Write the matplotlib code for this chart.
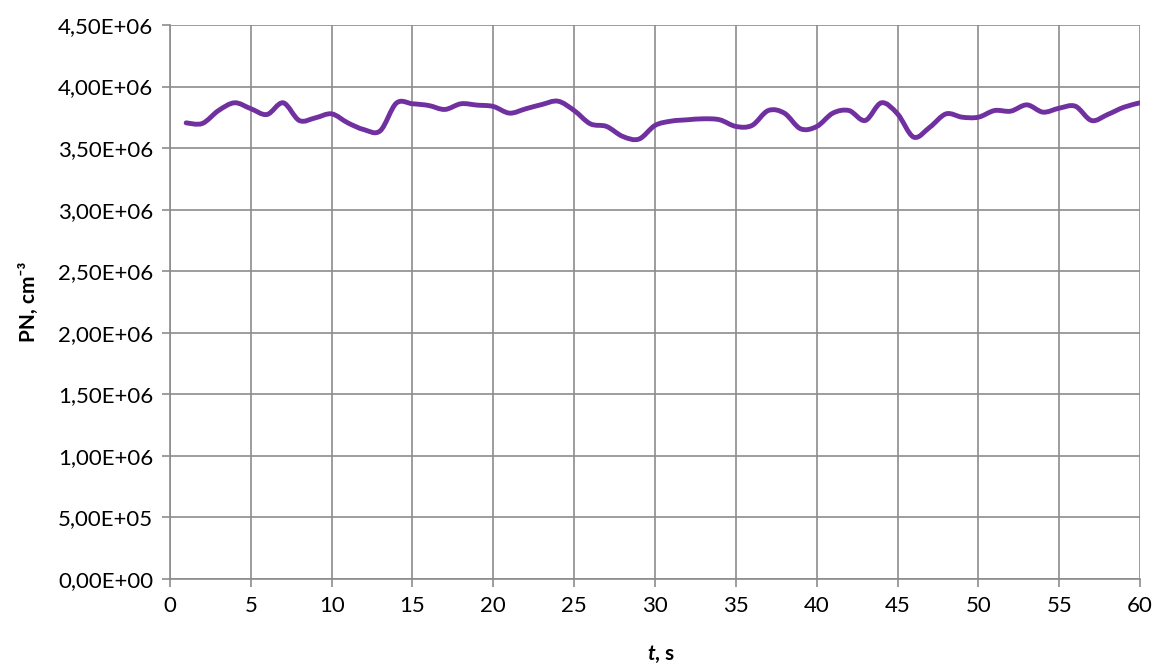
import matplotlib
matplotlib.use('Agg')
import matplotlib.pyplot as plt
import numpy as np
from matplotlib.path import Path
from matplotlib.patches import PathPatch
from matplotlib.ticker import FuncFormatter, MultipleLocator

plt.rcParams['font.family'] = ['Lato', 'DejaVu Sans']

# time in seconds and particle number (cm^-3)
t = list(range(1, 61))
pn = [3.705e6, 3.70e6, 3.805e6, 3.868e6, 3.82e6, 3.773e6, 3.868e6, 3.724e6, 3.746e6, 3.778e6,
      3.705e6, 3.65e6, 3.64e6, 3.865e6, 3.86e6, 3.846e6, 3.814e6, 3.86e6, 3.849e6, 3.838e6,
      3.784e6, 3.819e6, 3.854e6, 3.881e6, 3.805e6, 3.697e6, 3.676e6, 3.595e6, 3.573e6, 3.684e6,
      3.719e6, 3.73e6, 3.738e6, 3.73e6, 3.676e6, 3.684e6, 3.805e6, 3.784e6, 3.657e6, 3.675e6,
      3.784e6, 3.805e6, 3.724e6, 3.868e6, 3.778e6, 3.589e6, 3.67e6, 3.778e6, 3.751e6, 3.751e6,
      3.805e6, 3.80e6, 3.851e6, 3.792e6, 3.824e6, 3.84e6, 3.724e6, 3.773e6, 3.832e6, 3.868e6]

fig = plt.figure(figsize=(11.54, 6.66), dpi=100)
ax = fig.add_axes([0.1473, 0.1306, 0.8406, 0.8319])

# smoothed line like Excel (Catmull-Rom as cubic Bezier segments)
x = np.array(t, dtype=float)
y = np.array(pn, dtype=float)
verts = [(x[0], y[0])]
codes = [Path.MOVETO]
n = len(x)
for i in range(n - 1):
    x0, y0 = (x[i - 1], y[i - 1]) if i > 0 else (x[i], y[i])
    x3, y3 = (x[i + 2], y[i + 2]) if i + 2 < n else (x[i + 1], y[i + 1])
    c1 = (x[i] + (x[i + 1] - x0) / 6, y[i] + (y[i + 1] - y0) / 6)
    c2 = (x[i + 1] - (x3 - x[i]) / 6, y[i + 1] - (y3 - y[i]) / 6)
    verts += [c1, c2, (x[i + 1], y[i + 1])]
    codes += [Path.CURVE4] * 3
ax.add_patch(PathPatch(Path(verts, codes), facecolor='none', edgecolor='#7030A0',
                       linewidth=3.5, capstyle='round', joinstyle='round', zorder=3))

ax.set_xlim(0, 60)
ax.set_ylim(0, 4.5e6)
ax.xaxis.set_major_locator(MultipleLocator(5))
ax.yaxis.set_major_locator(MultipleLocator(5e5))
ax.yaxis.set_major_formatter(FuncFormatter(lambda v, p: ('%.2E' % v).replace('.', ',')))

ax.grid(True, color='#8c8c8c', linewidth=1.2)
ax.set_axisbelow(True)
for s in ['top', 'right']:
    ax.spines[s].set_visible(False)
for s in ['left', 'bottom']:
    ax.spines[s].set_color('#8c8c8c')
    ax.spines[s].set_linewidth(1.2)
ax.tick_params(axis='both', colors='#8c8c8c', length=6, width=1.2, labelsize=16,
               labelcolor='black', pad=6)

ax.set_ylabel('PN, cm⁻³', fontsize=15, fontweight='bold', labelpad=14)
ax.text(0.5, -0.135, 't', transform=ax.transAxes, ha='right', va='center',
        fontsize=15, fontweight='bold', fontstyle='italic')
ax.text(0.5, -0.135, ', s', transform=ax.transAxes, ha='left', va='center',
        fontsize=15, fontweight='bold')

fig.savefig('out.png', dpi=100)
